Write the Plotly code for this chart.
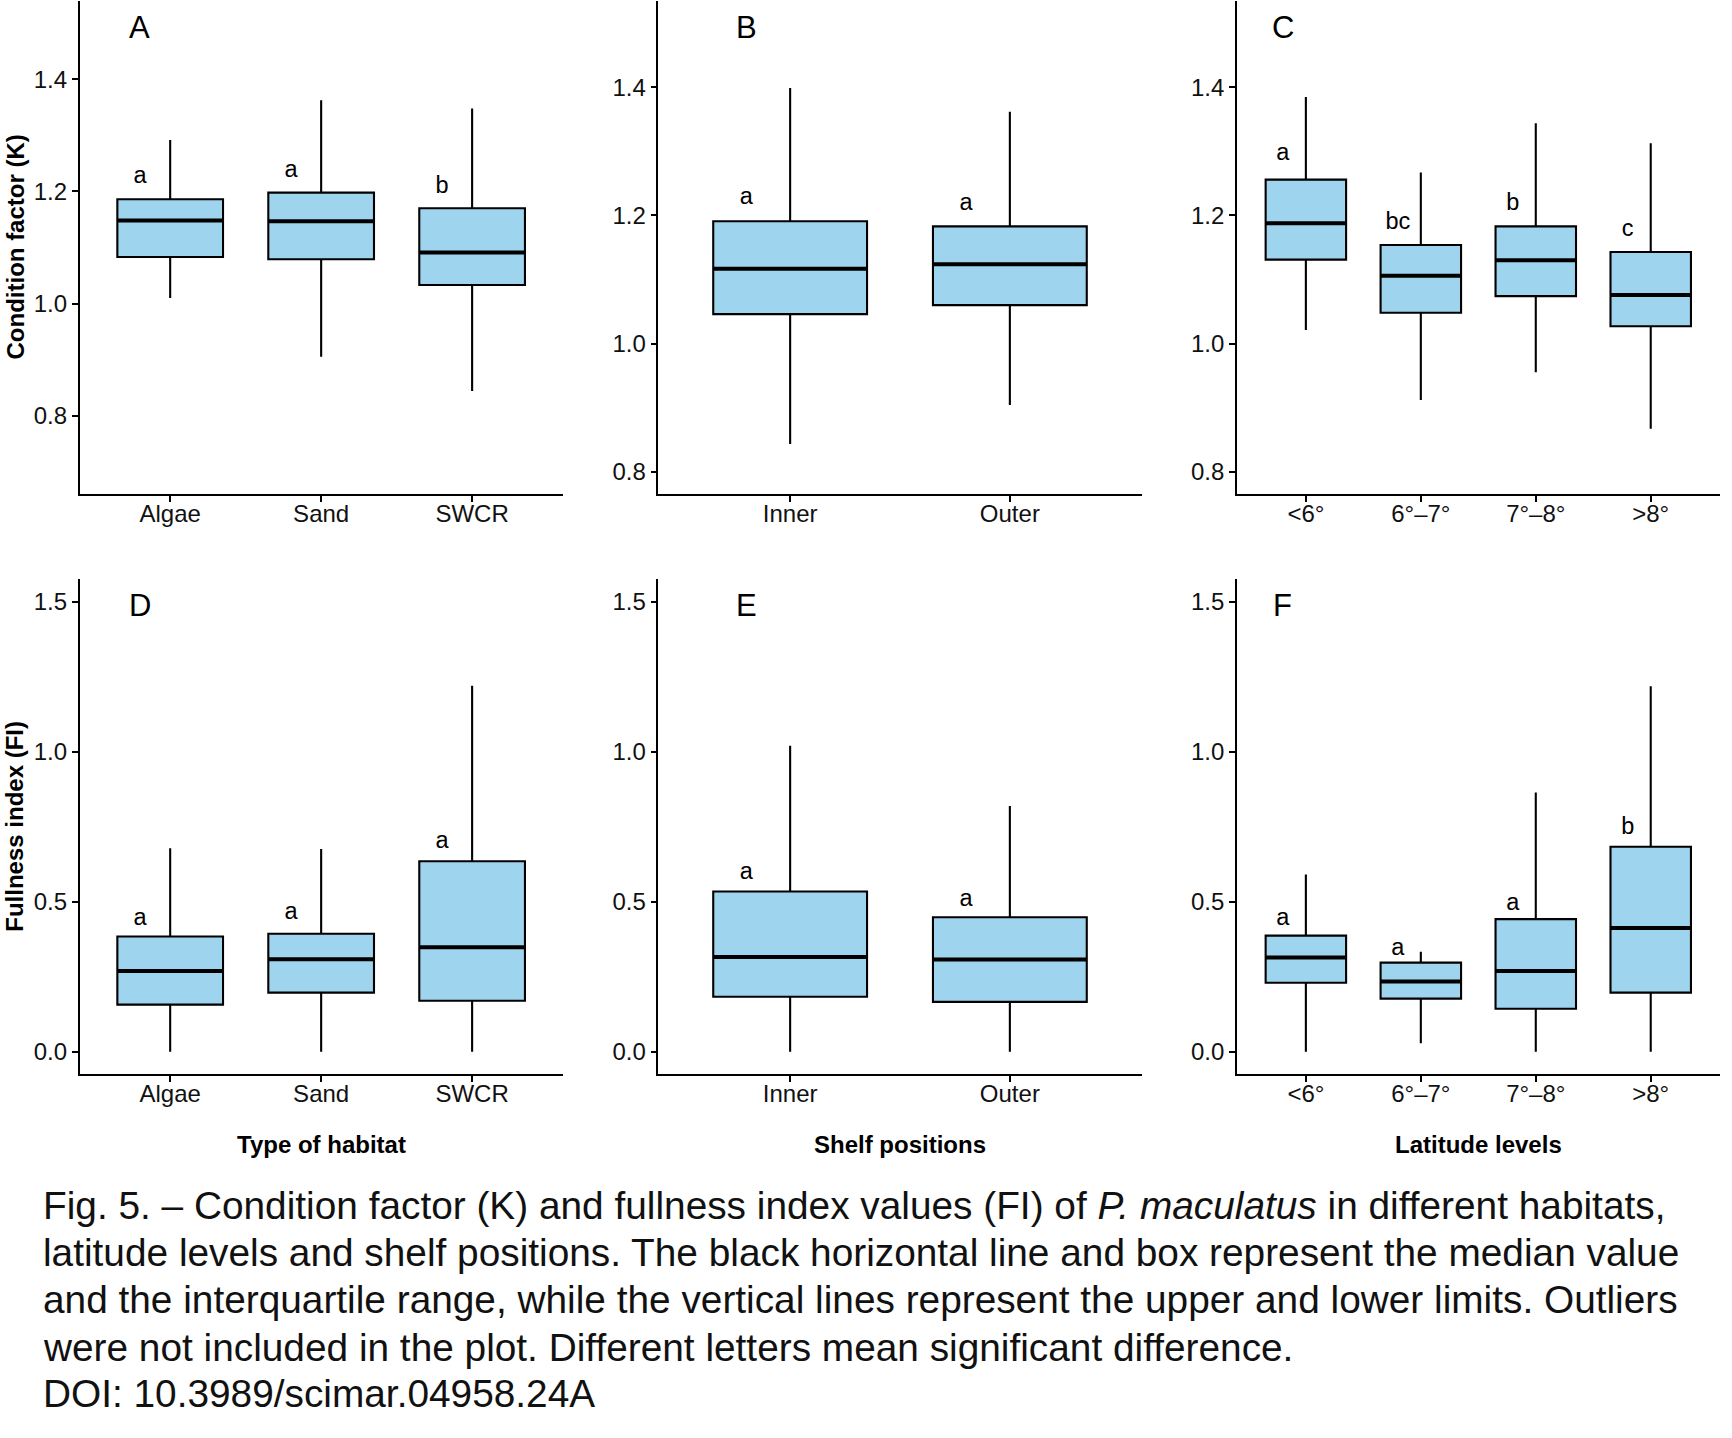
import plotly.graph_objects as go
from plotly.subplots import make_subplots

# ---------------- data ----------------
habitat = ["Algae", "Sand", "SWCR"]
shelf = ["Inner", "Outer"]
latitude = ["<6°", "6°–7°", "7°–8°", ">8°"]

# Condition factor (K)
k_hab_low = [1.010, 0.905, 0.844]
k_hab_q1 = [1.083, 1.079, 1.033]
k_hab_med = [1.148, 1.147, 1.091]
k_hab_q3 = [1.186, 1.198, 1.170]
k_hab_high = [1.292, 1.363, 1.348]
k_hab_letters = ["a", "a", "b"]
k_hab_letter_y = [1.226, 1.236, 1.207]

k_shelf_low = [0.843, 0.904]
k_shelf_q1 = [1.046, 1.060]
k_shelf_med = [1.117, 1.124]
k_shelf_q3 = [1.191, 1.183]
k_shelf_high = [1.399, 1.362]
k_shelf_letters = ["a", "a"]
k_shelf_letter_y = [1.227, 1.217]

k_lat_low = [1.021, 0.912, 0.955, 0.867]
k_lat_q1 = [1.131, 1.048, 1.074, 1.027]
k_lat_med = [1.188, 1.106, 1.130, 1.076]
k_lat_q3 = [1.256, 1.154, 1.183, 1.143]
k_lat_high = [1.385, 1.267, 1.344, 1.313]
k_lat_letters = ["a", "bc", "b", "c"]
k_lat_letter_y = [1.296, 1.188, 1.217, 1.177]

# Fullness index (FI)
fi_hab_low = [0.0, 0.0, 0.0]
fi_hab_q1 = [0.157, 0.197, 0.170]
fi_hab_med = [0.269, 0.308, 0.348]
fi_hab_q3 = [0.384, 0.393, 0.635]
fi_hab_high = [0.678, 0.676, 1.220]
fi_hab_letters = ["a", "a", "a"]
fi_hab_letter_y = [0.442, 0.463, 0.700]

fi_shelf_low = [0.0, 0.0]
fi_shelf_q1 = [0.183, 0.166]
fi_shelf_med = [0.316, 0.307]
fi_shelf_q3 = [0.534, 0.448]
fi_shelf_high = [1.020, 0.819]
fi_shelf_letters = ["a", "a"]
fi_shelf_letter_y = [0.595, 0.506]

fi_lat_low = [0.0, 0.028, 0.0, 0.0]
fi_lat_q1 = [0.230, 0.177, 0.143, 0.197]
fi_lat_med = [0.314, 0.234, 0.269, 0.412]
fi_lat_q3 = [0.387, 0.297, 0.442, 0.683]
fi_lat_high = [0.591, 0.333, 0.864, 1.218]
fi_lat_letters = ["a", "a", "a", "b"]
fi_lat_letter_y = [0.442, 0.342, 0.493, 0.745]

panel_labels = ["A", "B", "C", "D", "E", "F"]
k_ticks = [0.8, 1.0, 1.2, 1.4]
fi_ticks = [0.0, 0.5, 1.0, 1.5]
x_titles = ["Type of habitat", "Shelf positions", "Latitude levels"]
y_titles = ["Condition factor (K)", "Fullness index (FI)"]
caption_lines = [
    "Fig. 5. – Condition factor (K) and fullness index values (FI) of <i>P. maculatus</i> in different habitats,",
    "latitude levels and shelf positions. The black horizontal line and box represent the median value",
    "and the interquartile range, while the vertical lines represent the upper and lower limits. Outliers",
    "were not included in the plot. Different letters mean significant difference.",
    "DOI: 10.3989/scimar.04958.24A",
]

# ---------------- styling ----------------
W, H = 1732, 1438
FONT = "Liberation Sans, Arial, Helvetica, sans-serif"
FILL = "#9FD4EF"
BLACK = "#000000"

panels = [
    (1, 1, habitat, k_hab_low, k_hab_q1, k_hab_med, k_hab_q3, k_hab_high, k_hab_letters, k_hab_letter_y),
    (1, 2, shelf, k_shelf_low, k_shelf_q1, k_shelf_med, k_shelf_q3, k_shelf_high, k_shelf_letters, k_shelf_letter_y),
    (1, 3, latitude, k_lat_low, k_lat_q1, k_lat_med, k_lat_q3, k_lat_high, k_lat_letters, k_lat_letter_y),
    (2, 1, habitat, fi_hab_low, fi_hab_q1, fi_hab_med, fi_hab_q3, fi_hab_high, fi_hab_letters, fi_hab_letter_y),
    (2, 2, shelf, fi_shelf_low, fi_shelf_q1, fi_shelf_med, fi_shelf_q3, fi_shelf_high, fi_shelf_letters, fi_shelf_letter_y),
    (2, 3, latitude, fi_lat_low, fi_lat_q1, fi_lat_med, fi_lat_q3, fi_lat_high, fi_lat_letters, fi_lat_letter_y),
]

# pixel geometry of plot areas
col_px = [(79.6, 562.7), (658.3, 1141.7), (1236.9, 1719.7)]
row_px = [(1.0, 494.0), (579.2, 1074.2)]
y_ranges = {
    (1, 1): [0.66, 1.54],
    (1, 2): [0.765, 1.535],
    (1, 3): [0.765, 1.535],
    (2, 1): [-0.075, 1.575],
    (2, 2): [-0.075, 1.575],
    (2, 3): [-0.075, 1.575],
}

fig = make_subplots(rows=2, cols=3)
annotations = []

for idx, (r, c, cats, lo, q1, med, q3, hi, letters, ly) in enumerate(panels):
    pos = list(range(1, len(cats) + 1))
    fig.add_trace(go.Box(
        x=pos, q1=q1, median=med, q3=q3, lowerfence=lo, upperfence=hi,
        width=0.7, fillcolor=FILL, line=dict(color=BLACK, width=2.1),
        whiskerwidth=0, boxpoints=False, hoverinfo="skip", showlegend=False,
    ), row=r, col=c)
    # thicker median line
    fig.add_trace(go.Box(
        x=pos, q1=med, median=med, q3=med, lowerfence=med, upperfence=med,
        width=0.7, fillcolor="rgba(0,0,0,0)", line=dict(color=BLACK, width=4),
        whiskerwidth=0, boxpoints=False, hoverinfo="skip", showlegend=False,
    ), row=r, col=c)
    # significance letters
    fig.add_trace(go.Scatter(
        x=[p - 0.2 for p in pos], y=ly, text=letters, mode="text",
        textposition="middle center",
        textfont=dict(family=FONT, size=23.5, color=BLACK),
        hoverinfo="skip", showlegend=False,
    ), row=r, col=c)

    n = idx + 1
    axsuf = "" if n == 1 else str(n)
    # panel label
    annotations.append(dict(
        x=0.8, y=1.5, xref="x" + axsuf, yref="y" + axsuf,
        text=panel_labels[idx], showarrow=False, yshift=-4,
        xanchor="center", yanchor="middle",
        font=dict(family=FONT, size=31, color=BLACK),
    ))

    x0, x1 = col_px[c - 1]
    y0, y1 = row_px[r - 1]
    fig.update_xaxes(
        domain=[x0 / W, x1 / W], range=[0.4, len(cats) + 0.6],
        tickmode="array", tickvals=pos, ticktext=cats,
        showline=True, linecolor=BLACK, linewidth=1.5,
        ticks="outside", ticklen=6, tickwidth=1.5, tickcolor=BLACK,
        ticklabelstandoff=-9,
        showgrid=False, zeroline=False,
        tickfont=dict(family=FONT, size=24, color="#111111"),
        row=r, col=c,
    )
    fig.update_yaxes(
        domain=[1 - y1 / H, 1 - y0 / H], range=y_ranges[(r, c)],
        tickmode="array", tickvals=k_ticks if r == 1 else fi_ticks,
        tickformat=".1f",
        showline=True, linecolor=BLACK, linewidth=1.5,
        ticks="outside", ticklen=6, tickwidth=1.5, tickcolor=BLACK,
        showgrid=False, zeroline=False,
        tickfont=dict(family=FONT, size=24, color="#111111"),
        row=r, col=c,
    )

# x-axis titles (bottom row)
for c in range(3):
    x0, x1 = col_px[c]
    annotations.append(dict(
        x=(x0 + x1) / 2 / W, y=1 - 1144 / H, xref="paper", yref="paper",
        text="<b>%s</b>" % x_titles[c], showarrow=False,
        xanchor="center", yanchor="middle",
        font=dict(family=FONT, size=24, color=BLACK),
    ))
# y-axis titles (left column)
for r in range(2):
    y0, y1 = row_px[r]
    annotations.append(dict(
        x=15 / W, y=1 - (y0 + y1) / 2 / H, xref="paper", yref="paper",
        text="<b>%s</b>" % y_titles[r], showarrow=False, textangle=-90,
        xanchor="center", yanchor="middle",
        font=dict(family=FONT, size=24, color=BLACK),
    ))
# caption
cap_y = [1205, 1252, 1299, 1347, 1393]
for line, yy in zip(caption_lines, cap_y):
    annotations.append(dict(
        x=41 / W, y=1 - yy / H, xref="paper", yref="paper",
        text=line, showarrow=False, xanchor="left", yanchor="middle",
        font=dict(family=FONT, size=38.8, color="#111111"),
    ))

fig.update_layout(
    width=W, height=H, margin=dict(l=0, r=0, t=0, b=0),
    paper_bgcolor="white", plot_bgcolor="white",
    showlegend=False, annotations=annotations,
    font=dict(family=FONT, color=BLACK),
)

fig.write_html(
    "out.html",
    config={"displayModeBar": False},
    post_script="document.body.style.margin='0';document.body.style.padding='0';document.body.style.overflow='hidden';",
)
